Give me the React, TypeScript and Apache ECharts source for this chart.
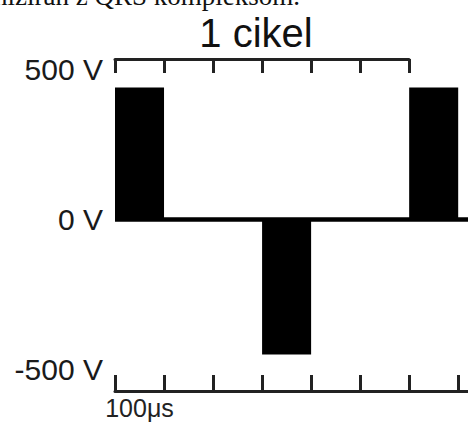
import React, { useEffect, useRef } from 'react';
import * as echarts from 'echarts';

// Pulse waveform data (time in μs, voltage in V)
const pulseStarts = [0, 300, 600];
const pulseEnds = [100, 400, 700];
const pulseVolts = [440, -450, 440];
const baselineTimes = [0, 720];
const baselineVolts = [0, 0];
const timeTicks = [0, 100, 200, 300, 400, 500, 600, 700];
const cycleTicks = [0, 100, 200, 300, 400, 500, 600];
const voltTicks = [-500, 0, 500];
const timeLabelPos = [50];
const timeLabels = ['100μs'];
const titleText = '1 cikel';
const captionText = 'niziran z QRS kompleksom.';

export default function App() {
  const ref = useRef<HTMLDivElement>(null);
  useEffect(() => {
    if (!ref.current) return;
    const chart = echarts.init(ref.current, null, { renderer: 'svg' });
    const sans = '"Liberation Sans", Arial, sans-serif';
    const pulses = pulseStarts.map((s, i) => [s, pulseEnds[i], pulseVolts[i]]);
    chart.setOption({
      animation: false,
      backgroundColor: '#fff',
      grid: [
        { left: 115, top: 59, width: 353, height: 332 },
        { left: 115, top: 59, width: 294, height: 10 },
      ],
      xAxis: [
        {
          gridIndex: 0,
          type: 'value',
          min: 0,
          max: 720,
          position: 'bottom',
          axisLine: { onZero: false, lineStyle: { color: '#222', width: 3 } },
          axisTick: {
            inside: true,
            length: 16,
            customValues: timeTicks,
            lineStyle: { color: '#222', width: 3 },
          },
          axisLabel: {
            customValues: timeLabelPos,
            formatter: () => timeLabels[0],
            fontSize: 25,
            fontFamily: sans,
            color: '#222',
            margin: 4,
          },
          splitLine: { show: false },
        },
        {
          gridIndex: 1,
          type: 'value',
          min: 0,
          max: 600,
          position: 'top',
          axisLine: { onZero: false, lineStyle: { color: '#222', width: 3 } },
          axisTick: {
            inside: true,
            length: 14,
            customValues: cycleTicks,
            lineStyle: { color: '#222', width: 3 },
          },
          axisLabel: { show: false },
          splitLine: { show: false },
        },
      ],
      yAxis: [
        {
          gridIndex: 0,
          type: 'value',
          min: -572,
          max: 535,
          axisLine: { show: false },
          axisTick: { show: false },
          splitLine: { show: false },
          axisLabel: {
            customValues: voltTicks,
            formatter: (v: number) => `${v} V`,
            fontSize: 30,
            fontFamily: sans,
            color: '#1a1a1a',
            margin: 12,
            padding: [8, 0, 0, 0],
          },
        },
        { gridIndex: 1, type: 'value', show: false },
      ],
      graphic: [
        {
          type: 'text',
          left: -6,
          top: -18,
          style: {
            text: captionText,
            font: '27px "Liberation Serif", "Times New Roman", serif',
            fill: '#111',
          },
        },
        {
          type: 'text',
          x: 256,
          y: 33,
          style: {
            text: titleText,
            font: `40px ${sans}`,
            fill: '#111',
            textAlign: 'center',
            textVerticalAlign: 'middle',
          },
        },
      ],
      series: [
        {
          type: 'custom',
          xAxisIndex: 0,
          yAxisIndex: 0,
          data: pulses,
          encode: { x: [0, 1], y: 2 },
          renderItem: (params: any, api: any) => {
            const p1 = api.coord([api.value(0), api.value(2)]);
            const p2 = api.coord([api.value(1), 0]);
            return {
              type: 'rect',
              shape: {
                x: p1[0],
                y: Math.min(p1[1], p2[1]),
                width: p2[0] - p1[0],
                height: Math.abs(p2[1] - p1[1]),
              },
              style: { fill: '#000' },
            };
          },
        },
        {
          type: 'line',
          xAxisIndex: 0,
          yAxisIndex: 0,
          data: baselineTimes.map((t, i) => [t, baselineVolts[i]]),
          symbol: 'none',
          lineStyle: { color: '#000', width: 4.5 },
        },
      ],
    });
    return () => chart.dispose();
  }, []);
  return (
    <div
      ref={ref}
      style={{ position: 'fixed', left: 0, top: 0, width: 468, height: 422 }}
    />
  );
}
